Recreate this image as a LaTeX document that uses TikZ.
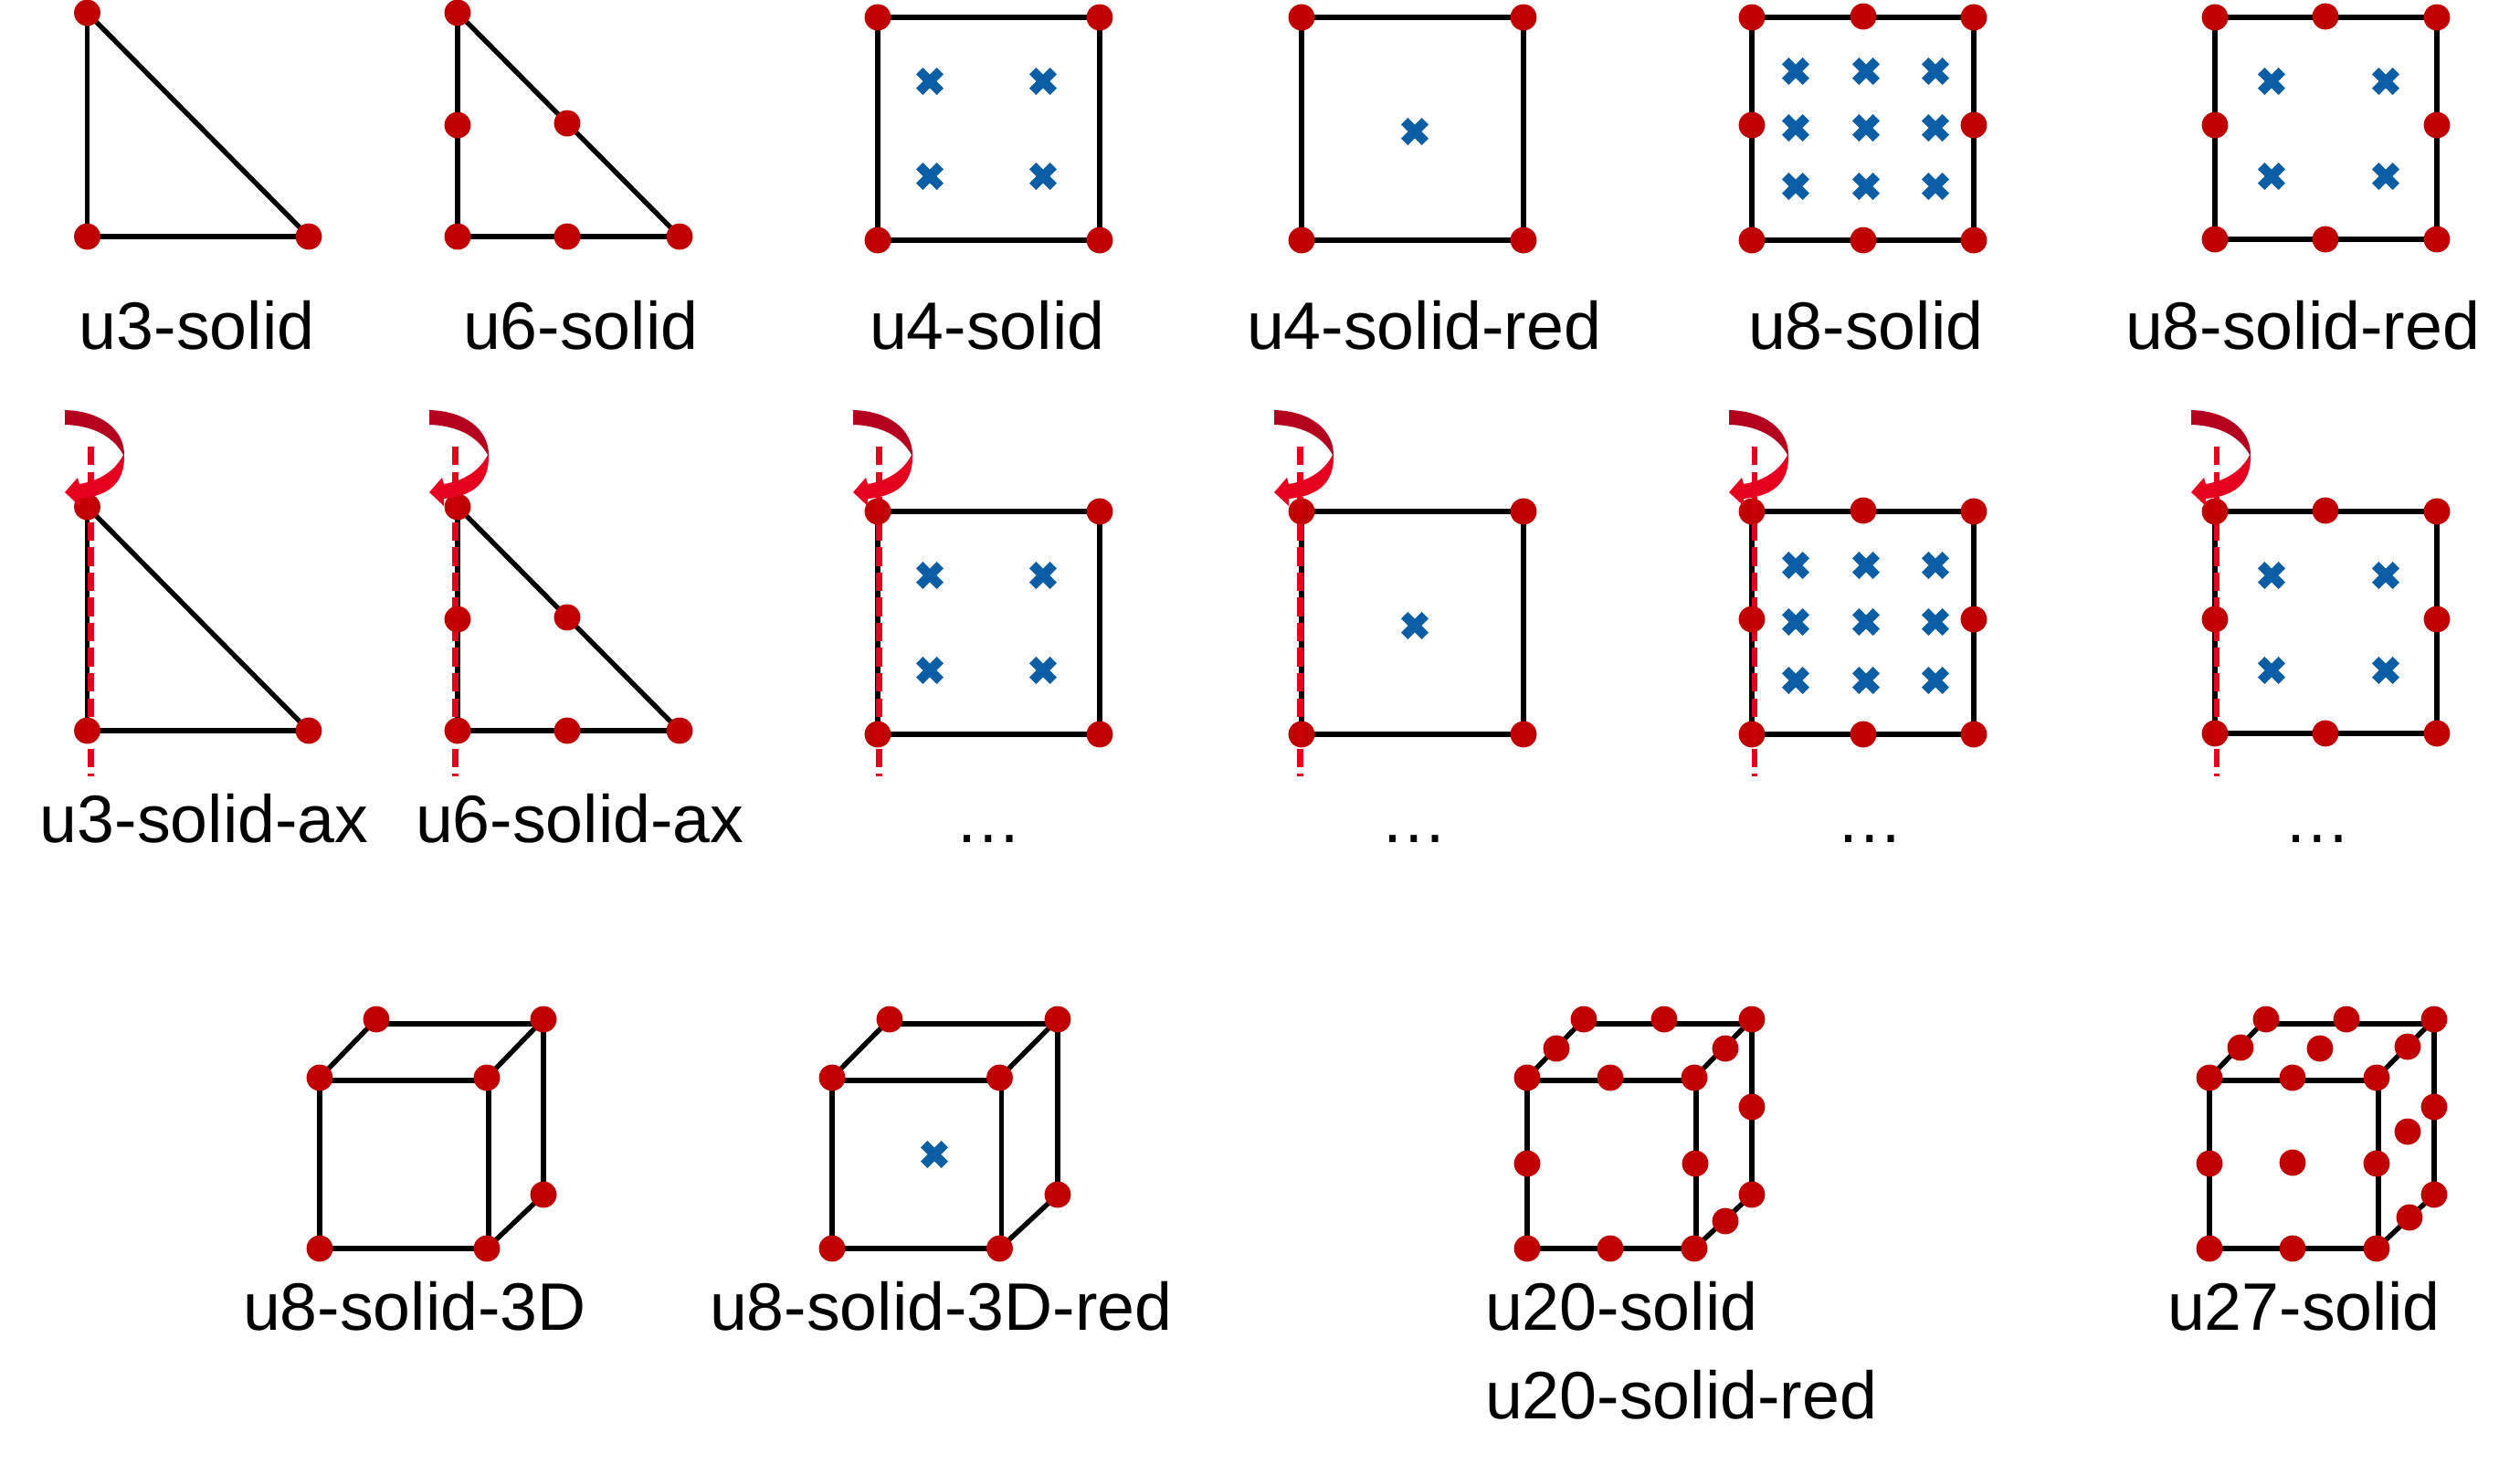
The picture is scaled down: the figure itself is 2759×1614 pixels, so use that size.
\documentclass[tikz,border=0pt]{standalone}
\usepackage{fontspec}
\setmainfont{Liberation Sans}
\usetikzlibrary{shapes.misc,backgrounds}
\definecolor{ptred}{HTML}{C00000}
\definecolor{crblue}{HTML}{0B5EA6}
\definecolor{axred}{HTML}{E4001E}
\definecolor{spinA}{HTML}{B4001E}
\definecolor{spinB}{HTML}{E6001F}
\tikzset{
  ptn/.style={circle,fill=ptred,draw=none,inner sep=0pt,outer sep=0pt,minimum size=0.288cm},
  crn/.style={cross out,draw=crblue,line width=0.105cm,inner sep=0pt,outer sep=0pt,minimum size=0.226cm},
  edge/.style={draw=black,line width=0.054cm},
  axisline/.style={draw=axred,line width=0.067cm,dash pattern=on 0.204cm off 0.0714cm},
  lab/.style={anchor=base west,inner sep=0pt,outer sep=0pt,text=black,font=\fontsize{20.9pt}{24pt}\selectfont},
  dotslab/.style={anchor=base,inner sep=0pt,outer sep=0pt,text=black,font=\fontsize{20.9pt}{24pt}\selectfont},
  spin/.pic={
    \fill[spinA] (0,0) .. controls (39,1) and (65,21) .. (65,49) -- (64,49) .. controls (54,31) and (34,17) .. (0,16) -- cycle;
    \fill[spinB] (64,49) .. controls (56,65) and (40,77) .. (16,81) -- (14,74) -- (0,90) -- (16,105) -- (16,97) .. controls (50,94) and (66,78) .. (65,49) -- cycle;
  }
}
\newcommand\dotn[3]{\node[ptn] (#1) at (#2,#3) {};}
\newcommand\crs[3]{\node[crn] (#1) at (#2,#3) {};}
\newcommand\lbl[4]{\node[lab] (#1) at (#2,#3) {#4};}
\newcommand\edgs[1]{\begin{pgfonlayer}{background}\foreach \p/\q in {#1}{\draw[edge] (\p.center) -- (\q.center);}\end{pgfonlayer}}
% 2D element shapes, each with a prefix for its node names
\newcommand\shThree[1]{%
  \dotn{#1a}{95.5}{14}\dotn{#1b}{95.5}{259}\dotn{#1c}{338}{259}%
  \edgs{#1a/#1b,#1b/#1c,#1a/#1c}}
\newcommand\shSix[1]{%
  \dotn{#1a}{501}{14}\dotn{#1d}{501}{137}\dotn{#1b}{501}{259}%
  \dotn{#1e}{621}{135}\dotn{#1f}{621}{259}\dotn{#1c}{744}{259}%
  \edgs{#1a/#1b,#1b/#1c,#1a/#1c}}
\newcommand\shQuad[1]{%
  \dotn{#1a}{961}{19}\dotn{#1b}{1204}{19}\dotn{#1c}{961}{263}\dotn{#1d}{1204}{263}%
  \edgs{#1a/#1b,#1b/#1d,#1d/#1c,#1c/#1a}%
  \crs{#1p}{1018}{89}\crs{#1q}{1142}{89}\crs{#1r}{1018}{193}\crs{#1s}{1142}{193}}
\newcommand\shQuadR[1]{%
  \dotn{#1a}{1425}{19}\dotn{#1b}{1668}{19}\dotn{#1c}{1425}{263}\dotn{#1d}{1668}{263}%
  \edgs{#1a/#1b,#1b/#1d,#1d/#1c,#1c/#1a}%
  \crs{#1p}{1549}{144}}
\newcommand\shEight[1]{%
  \dotn{#1a}{1918}{19}\dotn{#1b}{2040}{18}\dotn{#1c}{2161}{19}%
  \dotn{#1d}{1918}{137}\dotn{#1e}{2161}{137}%
  \dotn{#1f}{1918}{263}\dotn{#1g}{2040}{263}\dotn{#1h}{2161}{263}%
  \edgs{#1a/#1c,#1c/#1h,#1h/#1f,#1f/#1a}%
  \foreach \i/\x in {1/1966,2/2043,3/2119}{\foreach \j/\y in {1/78,2/140,3/204}{\crs{#1x\i\j}{\x}{\y}}}}
\newcommand\shEightR[1]{%
  \dotn{#1a}{2425}{19}\dotn{#1b}{2546}{18}\dotn{#1c}{2668}{19}%
  \dotn{#1d}{2425}{137}\dotn{#1e}{2668}{137}%
  \dotn{#1f}{2425}{262}\dotn{#1g}{2546}{262}\dotn{#1h}{2668}{262}%
  \edgs{#1a/#1c,#1c/#1h,#1h/#1f,#1f/#1a}%
  \crs{#1p}{2487}{89}\crs{#1q}{2612}{89}\crs{#1r}{2487}{193}\crs{#1s}{2612}{193}}
% cube edges
\newcommand\cubeedges[1]{%
  \begin{pgfonlayer}{background}
  \draw[edge] ([yshift=-0.03cm]#1ftl.center) -- ([yshift=-0.03cm]#1ftr.center);
  \draw[edge] (#1ftl.center) -- (#1fbl.center) -- (#1fbr.center);
  \draw[edge] ([xshift=0.02cm]#1ftr.center) -- ([xshift=0.02cm]#1fbr.center);
  \draw[edge] ([yshift=-0.05cm]#1btl.center) -- ([yshift=-0.05cm]#1btr.center);
  \draw[edge] (#1btr.center) -- (#1bbr.center);
  \draw[edge] (#1ftl.center) -- (#1btl.center);
  \draw[edge] (#1ftr.center) -- (#1btr.center);
  \draw[edge] (#1fbr.center) -- (#1bbr.center);
  \end{pgfonlayer}}
\newcommand\cubecorners[5]{%
  \dotn{#1ftl}{#2}{1180}\dotn{#1ftr}{#3}{1180}\dotn{#1fbl}{#2}{1367}\dotn{#1fbr}{#3}{1367}%
  \dotn{#1btl}{#4}{1116}\dotn{#1btr}{#5}{1116}\dotn{#1bbr}{#5}{1308}}
% rotation axis with its spin arrow: opaque beneath the points, a faint pass above them
\newcommand\spinaxis[3]{%
  \coordinate (#1top) at (#2,489); \coordinate (#1bot) at (#2,849.5);
  \begin{pgfonlayer}{background}\draw[axisline] (#1top) -- (#1bot);\end{pgfonlayer}
  \draw[axisline,draw opacity=0.3] (#1top) -- (#1bot);
  \pic at (#3,449) {spin};}
\begin{document}
\begin{tikzpicture}[x=0.01cm,y=-0.01cm]
\useasboundingbox (0,0) rectangle (2759,1614);
% row 1
\shThree{ra}\shSix{rb}\shQuad{rc}\shQuadR{rd}\shEight{re}\shEightR{rf}
\lbl{la}{87}{382}{u3-solid}
\lbl{lb}{507}{382}{u6-solid}
\lbl{lc}{952}{382}{u4-solid}
\lbl{ld}{1365}{382}{u4-solid-red}
\lbl{le}{1914}{382}{u8-solid}
\lbl{lf}{2327}{382}{u8-solid-red}
% row 2
\begin{scope}[shift={(0,541)}]
\shThree{sa}\shSix{sb}\shQuad{sc}\shQuadR{sd}\shEight{se}\shEightR{sf}
\end{scope}
\spinaxis{xa}{99.3}{71}
\spinaxis{xb}{498.7}{470}
\spinaxis{xc}{962.5}{934}
\spinaxis{xd}{1423.7}{1395}
\spinaxis{xe}{1921}{1893}
\spinaxis{xf}{2427}{2399}
\lbl{ma}{44}{922}{u3-solid-ax}
\lbl{mb}{455}{922}{u6-solid-ax}
\node[dotslab] (mc) at (1082,922) {…};
\node[dotslab] (md) at (1548,922) {…};
\node[dotslab] (me) at (2047,922) {…};
\node[dotslab] (mf) at (2537,922) {…};
% row 3
\cubecorners{ca}{350}{533}{412}{595}
\cubeedges{ca}
\lbl{na}{266}{1456}{u8-solid-3D}
\cubecorners{cb}{911}{1094.5}{974}{1158}
\cubeedges{cb}
\crs{cbx}{1023}{1264}
\lbl{nb}{777}{1456}{u8-solid-3D-red}
\cubecorners{cc}{1672}{1855}{1734}{1918}
\cubeedges{cc}
\dotn{cc1}{1763}{1180}\dotn{cc2}{1672}{1274}\dotn{cc3}{1856}{1274}\dotn{cc4}{1763}{1367}
\dotn{cc5}{1822}{1116}\dotn{cc6}{1704}{1148}\dotn{cc7}{1889}{1148}\dotn{cc8}{1918}{1212}\dotn{cc9}{1889}{1337}
\lbl{nc}{1626}{1456}{u20-solid}
\lbl{nd}{1626}{1553}{u20-solid-red}
\cubecorners{cd}{2419}{2602}{2481}{2665}
\cubeedges{cd}
\dotn{cd1}{2510}{1180}\dotn{cd2}{2419}{1274}\dotn{cd3}{2602}{1274}\dotn{cd4}{2510}{1367}
\dotn{cd5}{2569}{1116}\dotn{cd6}{2453}{1147}\dotn{cd7}{2636}{1146}\dotn{cd8}{2665}{1212}\dotn{cd9}{2638}{1333}
\dotn{cd10}{2510}{1273}\dotn{cd11}{2540}{1148}\dotn{cd12}{2636}{1239}
\lbl{ne}{2373}{1456}{u27-solid}
\end{tikzpicture}
\end{document}
